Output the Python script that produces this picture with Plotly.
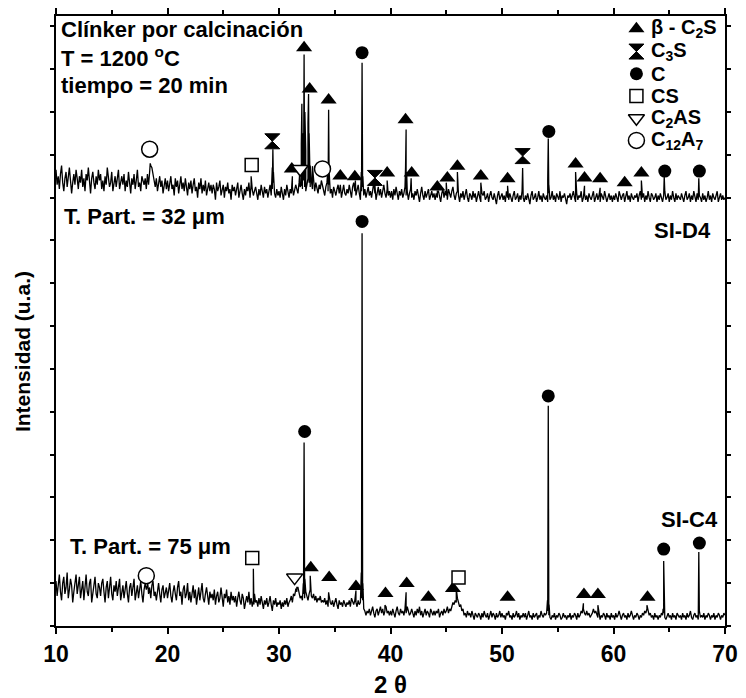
import numpy as np
import plotly.graph_objects as go

# ---------------- data ----------------
two_theta_min = 10.0
two_theta_max = 70.0

# SI-D4 (upper pattern) background intensities, 10..70 deg every 0.1 deg
sid4_background = [
    213, 206, 210, 204, 211, 215, 207, 203, 209, 212, 205, 210, 214, 208, 202, 207, 211, 206, 213, 209,
    204, 210, 207, 213, 205, 209, 203, 211, 208, 214, 206, 202, 209, 212, 207, 204, 210, 206, 213, 208,
    211, 204, 208, 203, 210, 206, 214, 209, 205, 207, 212, 203, 208, 210, 205, 209, 213, 204, 207, 210,
    206, 211, 203, 208, 205, 212, 207, 202, 209, 206, 211, 204, 208, 213, 205, 207, 203, 210, 208, 206,
    209, 204, 211, 206, 212, 215, 214, 210, 208, 205, 209, 203, 207, 210, 205, 208, 202, 206, 209, 204,
    208, 203, 207, 210, 204, 206, 201, 209, 205, 208, 202, 206, 210, 204, 207, 203, 209, 205, 201, 207,
    204, 208, 202, 206, 209, 203, 205, 200, 207, 204, 209, 202, 206, 203, 208, 201, 205, 207, 203, 206,
    202, 206, 204, 199, 207, 203, 205, 208, 201, 204, 206, 200, 205, 203, 207, 202, 204, 199, 206, 203,
    205, 201, 204, 207, 200, 203, 206, 202, 199, 204, 201, 205, 203, 207, 200, 206, 204, 201, 203, 205,
    202, 199, 204, 201, 206, 203, 200, 205, 202, 204, 200, 203, 206, 201, 204, 207, 202, 200, 204, 201,
    203, 200, 205, 202, 199, 204, 201, 206, 203, 200, 204, 202, 205, 201, 203, 206, 204, 202, 207, 205,
    206, 204, 208, 205, 203, 206, 209, 207, 205, 208, 204, 206, 203, 207, 205, 202, 206, 204, 208, 205,
    204, 201, 205, 207, 203, 206, 202, 204, 200, 205, 203, 201, 204, 206, 202, 205, 200, 203, 206, 202,
    201, 204, 202, 206, 203, 200, 205, 207, 203, 201, 204, 206, 202, 199, 203, 205, 201, 204, 200, 203,
    205, 201, 203, 200, 204, 207, 202, 199, 203, 205, 201, 204, 200, 203, 206, 202, 200, 204, 201, 203,
    200, 203, 199, 204, 201, 205, 202, 199, 203, 201, 204, 200, 202, 205, 201, 203, 199, 202, 204, 200,
    202, 199, 203, 201, 204, 200, 198, 202, 205, 201, 199, 203, 200, 202, 204, 199, 201, 203, 200, 202,
    199, 202, 200, 203, 201, 198, 202, 204, 200, 203, 201, 199, 204, 202, 200, 203, 205, 201, 199, 202,
    203, 201, 198, 202, 200, 203, 199, 201, 204, 200, 198, 202, 201, 199, 203, 200, 202, 198, 201, 203,
    200, 198, 202, 201, 203, 199, 200, 202, 198, 201, 203, 200, 199, 202, 200, 197, 201, 203, 199, 201,
    202, 199, 201, 198, 203, 200, 199, 202, 200, 198, 201, 203, 199, 200, 202, 198, 201, 199, 203, 200,
    198, 201, 199, 202, 200, 197, 201, 203, 199, 200, 202, 198, 200, 203, 199, 201, 198, 202, 200, 199,
    201, 198, 202, 199, 200, 203, 199, 201, 198, 202, 200, 199, 203, 198, 201, 200, 202, 199, 197, 201,
    200, 202, 199, 201, 203, 200, 198, 202, 199, 201, 200, 203, 198, 200, 202, 199, 201, 198, 202, 200,
    199, 201, 203, 198, 200, 202, 199, 201, 198, 202, 200, 199, 203, 201, 198, 200, 202, 199, 201, 198,
    201, 199, 202, 200, 198, 203, 200, 199, 201, 202, 198, 200, 203, 199, 201, 198, 202, 200, 199, 201,
    200, 202, 198, 201, 203, 199, 200, 202, 198, 201, 199, 203, 200, 198, 202, 201, 199, 200, 202, 198,
    201, 199, 202, 200, 198, 201, 203, 199, 200, 202, 198, 201, 199, 203, 200, 198, 202, 199, 201, 200,
    199, 202, 200, 198, 201, 203, 199, 200, 202, 198, 201, 199, 203, 200, 198, 202, 199, 201, 200, 198,
    202, 199, 201, 198, 200, 203, 199, 201, 198, 202, 200, 199, 201, 203, 198, 200, 202, 199, 201, 199,
    200,
]

# SI-C4 (lower pattern) background intensities, 10..70 deg every 0.1 deg
sic4_background = [
    21, 14, 19, 24, 16, 12, 20, 23, 15, 18, 25, 13, 17, 22, 19, 11, 16, 21, 24, 15,
    18, 23, 13, 17, 21, 12, 19, 24, 16, 14, 20, 22, 11, 17, 19, 23, 15, 13, 20, 18,
    14, 20, 22, 16, 11, 18, 21, 13, 17, 23, 15, 12, 19, 16, 21, 14, 18, 22, 12, 17,
    19, 13, 16, 21, 15, 11, 18, 20, 14, 17, 22, 12, 16, 19, 13, 18, 21, 15, 11, 17,
    20, 17, 22, 15, 18, 13, 19, 21, 14, 16, 12, 18, 20, 15, 11, 17, 19, 13, 16, 18,
    13, 17, 20, 14, 11, 16, 19, 15, 12, 18, 21, 14, 16, 10, 17, 19, 13, 15, 20, 12,
    16, 11, 15, 19, 13, 17, 10, 14, 18, 12, 16, 20, 13, 11, 15, 18, 14, 10, 16, 13,
    15, 12, 17, 10, 14, 16, 11, 13, 18, 12, 9, 15, 13, 17, 11, 14, 10, 16, 12, 14,
    11, 14, 9, 13, 16, 12, 10, 15, 13, 8, 12, 14, 11, 16, 10, 13, 9, 12, 15, 11,
    12, 9, 13, 10, 14, 11, 8, 12, 10, 13, 9, 11, 14, 10, 7, 12, 10, 13, 9, 11,
    10, 12, 8, 11, 9, 12, 10, 13, 9, 11, 12, 14, 11, 15, 14, 17, 16, 18, 15, 13,
    14, 12, 15, 13, 16, 14, 12, 15, 17, 14, 13, 15, 12, 14, 11, 13, 12, 14, 11, 12,
    11, 13, 10, 12, 9, 14, 11, 10, 12, 9, 11, 13, 10, 8, 12, 10, 11, 9, 12, 10,
    9, 11, 10, 12, 9, 13, 11, 10, 12, 11, 9, 12, 10, 11, 13, 12, 8, 7, 5, 7,
    6, 8, 5, 7, 9, 6, 4, 7, 8, 5, 7, 9, 6, 8, 5, 7, 9, 6, 7, 5,
    7, 5, 8, 6, 4, 7, 9, 6, 5, 8, 6, 7, 5, 8, 6, 9, 7, 5, 6, 8,
    6, 4, 7, 5, 8, 6, 9, 5, 7, 4, 6, 8, 5, 7, 6, 4, 8, 6, 5, 7,
    5, 7, 6, 8, 4, 6, 7, 5, 8, 6, 7, 9, 6, 8, 7, 9, 11, 10, 12, 11,
    13, 11, 9, 10, 7, 8, 5, 6, 4, 7, 5, 6, 4, 7, 5, 3, 6, 5, 4, 6,
    5, 3, 6, 4, 7, 5, 4, 6, 3, 5, 7, 4, 6, 5, 3, 6, 4, 5, 7, 4,
    6, 4, 5, 3, 6, 5, 7, 4, 5, 3, 6, 4, 5, 7, 4, 6, 3, 5, 4, 6,
    4, 6, 3, 5, 7, 4, 5, 3, 6, 4, 5, 6, 3, 5, 4, 7, 5, 4, 6, 5,
    6, 7, 5, 4, 3, 5, 4, 6, 3, 5, 4, 6, 5, 3, 4, 6, 4, 5, 3, 5,
    4, 6, 3, 5, 4, 6, 5, 3, 6, 4, 5, 7, 6, 8, 6, 5, 7, 5, 6, 4,
    5, 6, 8, 6, 7, 5, 4, 6, 3, 5, 4, 6, 5, 3, 6, 4, 5, 3, 6, 4,
    5, 3, 6, 4, 5, 7, 4, 3, 5, 6, 4, 5, 3, 6, 4, 5, 7, 4, 3, 5,
    4, 6, 5, 3, 5, 4, 6, 5, 7, 6, 8, 7, 5, 6, 4, 5, 3, 6, 4, 5,
    3, 5, 4, 6, 5, 6, 4, 3, 5, 6, 4, 5, 3, 6, 4, 5, 3, 6, 5, 4,
    5, 3, 6, 4, 5, 3, 6, 4, 5, 7, 4, 3, 5, 6, 4, 5, 3, 6, 4, 5,
    4, 6, 3, 5, 4, 6, 5, 3, 5, 4, 6, 3, 5, 4, 6, 5, 3, 5, 4, 6,
    5,
]

# diffraction peak profile points (2theta, intensity)
sid4_peak_x = [18.45, 27.5, 29.4, 29.45, 29.5, 31.2, 31.85,
               32.0, 32.05, 32.12, 32.2, 32.25, 32.32, 32.4, 32.6, 32.65, 32.7, 32.8, 33.0,
               34.4, 34.45, 34.5, 35.5, 36.85, 37.38, 37.45, 37.52, 38.6, 39.7,
               41.35, 41.4, 41.45, 41.85, 44.2, 45.0, 46.0, 48.1, 50.5, 51.85,
               54.1, 54.15, 54.2, 56.6, 57.4, 58.8, 62.5, 64.55, 67.65]
sid4_peak_y = [216, 210, 214, 222.6, 212, 210, 211,
               225, 243.8, 230, 250, 266.8, 240, 222, 235, 248.4, 230, 215, 214.7,
               215, 241, 212, 206, 208, 212, 263, 210, 206, 208,
               214, 231.8, 212, 209, 203, 207, 212, 207, 205.5, 213.8,
               208, 227.6, 206, 212, 205.5, 204.6, 208, 210, 209]

sic4_peak_x = [18.2, 27.65, 27.7, 27.75, 31.5, 31.6, 32.18, 32.25, 32.32, 32.8,
               34.45, 36.9, 37.38, 37.45, 37.52, 39.5, 41.4, 45.9,
               54.08, 54.15, 54.22, 57.3, 58.6, 63.0,
               64.45, 64.5, 64.55, 67.6, 67.65, 67.7]
sic4_peak_y = [19, 12, 26.7, 10, 17.5, 18, 20, 85.7, 22, 23.5,
               15.7, 16.6, 25, 183.4, 20, 9.7, 15.7, 17.5,
               12, 102.8, 10, 10.6, 9.7, 9.7,
               8, 30.4, 7, 8, 34.6, 7]

# phase identification markers (both patterns)
c2s_x = [31.15, 32.25, 32.75, 34.45, 35.5, 36.8, 39.7, 41.35, 41.9, 44.2, 45.1, 46.0,
         48.1, 50.5, 56.6, 57.4, 58.8, 61.0, 62.5,
         32.85, 34.5, 36.9, 39.55, 41.45, 43.4, 45.6, 50.5, 57.35, 58.6, 63.05]
c2s_y = [213.4, 270, 250.7, 245.6, 210.1, 209.7, 211.5, 236.4, 211.5, 205, 209.2, 214.7,
         210.1, 208.8, 215.7, 209.2, 208.8, 206.9, 211.5,
         27.2, 22.6, 18.4, 15.2, 19.8, 13.4, 17.5, 13.4, 14.7, 14.7, 13.4]
c3s_x = [29.4, 38.6, 51.85]
c3s_y = [226.3, 209.2, 219.4]
c_x = [37.45, 54.2, 64.6, 67.7, 32.3, 37.45, 54.15, 64.5, 67.7]
c_y = [267.7, 230.9, 212.4, 212.4, 90.8, 188.9, 107.4, 35.9, 38.7]
cs_x = [27.55, 27.6, 46.1]
cs_y = [215.2, 31.8, 22.6]
c2as_x = [31.9, 31.4]
c2as_y = [213.4, 22.6]
c12a7_x = [18.4, 33.9, 18.1]
c12a7_y = [222.6, 213.4, 23.5]

phase_names = ["β - C<sub>2</sub>S", "C<sub>3</sub>S", "C", "CS",
               "C<sub>2</sub>AS", "C<sub>12</sub>A<sub>7</sub>"]

x_ticks = [10, 20, 30, 40, 50, 60, 70]

# ---------------- build ----------------
FONT = "Liberation Sans, Arial, sans-serif"


def profile(background, px, py):
    gx = np.linspace(two_theta_min, two_theta_max, len(background))
    xs = np.concatenate([gx, np.array(px, float)])
    ys = np.concatenate([np.array(background, float), np.array(py, float)])
    order = np.argsort(xs, kind="stable")
    return xs[order], ys[order]


fig = go.Figure()

for bg, px, py in [(sid4_background, sid4_peak_x, sid4_peak_y),
                   (sic4_background, sic4_peak_x, sic4_peak_y)]:
    xs, ys = profile(bg, px, py)
    fig.add_trace(go.Scatter(x=xs, y=ys, mode="lines",
                             line=dict(color="black", width=1.3),
                             hoverinfo="skip", showlegend=False))

marker_styles = [
    (c2s_x, c2s_y, dict(symbol="triangle-up", size=14, color="black")),
    (c3s_x, c3s_y, dict(symbol="hourglass", size=15, color="black",
                        line=dict(color="black", width=1))),
    (c_x, c_y, dict(symbol="circle", size=13, color="black")),
    (cs_x, cs_y, dict(symbol="square", size=13, color="white",
                      line=dict(color="black", width=1.5))),
    (c2as_x, c2as_y, dict(symbol="triangle-down", size=14, color="white",
                          line=dict(color="black", width=1.5))),
    (c12a7_x, c12a7_y, dict(symbol="circle", size=16, color="white",
                            line=dict(color="black", width=1.5))),
]
for mx, my, mk in marker_styles:
    fig.add_trace(go.Scatter(x=mx, y=my, mode="markers", marker=mk,
                             showlegend=False, hoverinfo="skip"))

# legend symbols on an overlay axis in paper-like units
legend_rows_y = [0.979, 0.9417, 0.9053, 0.8689, 0.8325, 0.7961]
legend_sym_x = 0.8676
for (mx, my, mk), ly in zip(marker_styles, legend_rows_y):
    fig.add_trace(go.Scatter(x=[legend_sym_x], y=[ly], mode="markers", marker=mk,
                             xaxis="x2", yaxis="y2", showlegend=False, hoverinfo="skip"))

annotations = []
for name, ly in zip(phase_names, legend_rows_y):
    annotations.append(dict(xref="paper", yref="paper", x=0.8868, y=ly,
                            xanchor="left", yanchor="middle", showarrow=False,
                            text="<b>" + name + "</b>",
                            font=dict(family=FONT, size=20, color="black")))

texts = [
    ("Clínker por calcinación", 0.0044, 0.9773, "left"),
    ("T = 1200 <sup>o</sup>C", 0.0044, 0.932, "left"),
    ("tiempo = 20 min", 0.0044, 0.8867, "left"),
    ("T. Part. = 32 μm", 0.0088, 0.6715, "left"),
    ("SI-D4", 0.982, 0.6489, "right"),
    ("T. Part. = 75 μm", 0.0176, 0.131, "left"),
    ("SI-C4", 0.9926, 0.1748, "right"),
]
for t, x, y, anc in texts:
    annotations.append(dict(xref="paper", yref="paper", x=x, y=y, xanchor=anc,
                            yanchor="middle", showarrow=False, text="<b>" + t + "</b>",
                            font=dict(family=FONT, size=22, color="black")))

annotations.append(dict(xref="paper", yref="paper", x=0.5, y=-0.0955,
                        xanchor="center", yanchor="middle", showarrow=False,
                        text="<b>2 θ</b>", font=dict(family=FONT, size=24, color="black")))
annotations.append(dict(xref="paper", yref="paper", x=-0.05, y=0.45,
                        xanchor="center", yanchor="middle", showarrow=False, textangle=-90,
                        text="<b>Intensidad (u.a.)</b>",
                        font=dict(family=FONT, size=21, color="black")))

fig.update_layout(
    width=746, height=698,
    margin=dict(l=56, r=10, t=8, b=72),
    plot_bgcolor="white", paper_bgcolor="white",
    showlegend=False,
    font=dict(family=FONT, color="black"),
    annotations=annotations,
    xaxis=dict(range=[10, 70], tickvals=x_ticks, ticks="outside", ticklen=6,
               tickwidth=2, tickcolor="black",
               minor=dict(dtick=5, tick0=10, ticks="outside", ticklen=4, tickwidth=2,
                          tickcolor="black"),
               showline=True, linewidth=2, linecolor="black", mirror="ticks",
               showgrid=False, zeroline=False,
               tickfont=dict(family=FONT, size=23, color="black", weight="bold")),
    yaxis=dict(range=[0, 284.8], dtick=20, tick0=0, ticks="outside", ticklen=4,
               tickwidth=1.5, tickcolor="black", showticklabels=False,
               showline=True, linewidth=2, linecolor="black", mirror="ticks",
               showgrid=False, zeroline=False),
    xaxis2=dict(range=[0, 1], overlaying="x", visible=False),
    yaxis2=dict(range=[0, 1], overlaying="y", visible=False),
)

fig.write_html("out.html")
